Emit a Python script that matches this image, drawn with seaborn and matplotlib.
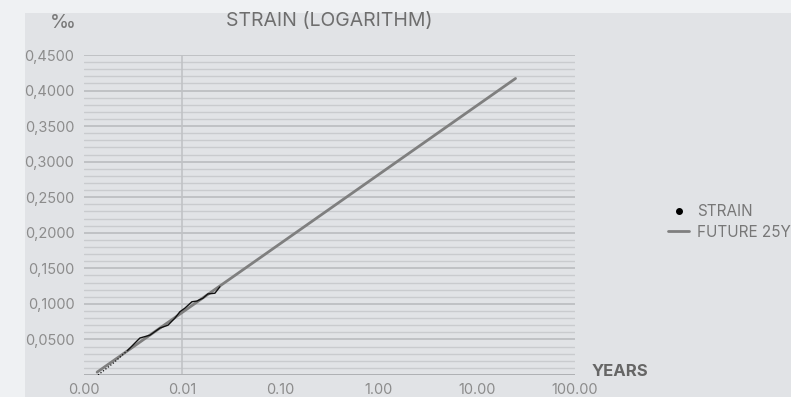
import matplotlib
matplotlib.use('Agg')
import matplotlib.pyplot as plt
import seaborn as sns
from matplotlib.lines import Line2D
from matplotlib.patches import Rectangle
from matplotlib.ticker import FuncFormatter, MultipleLocator, FixedLocator

# Data (years on log axis, strain in per mille)
strain_years_early = [0.00139, 0.0020, 0.0028]
strain_early = [0.0, 0.017, 0.035]

strain_years = [0.0028, 0.00371, 0.00469, 0.00593, 0.00716, 0.00843, 0.00948,
                0.01065, 0.01256, 0.01412, 0.01625, 0.01825, 0.02152, 0.02419]
strain = [0.035, 0.052, 0.056, 0.066, 0.070, 0.080, 0.089,
          0.094, 0.103, 0.104, 0.108, 0.114, 0.115, 0.124]

future_years = [0.00136, 24.8]
future = [0.004, 0.417]

x_ticks = [0.001, 0.01, 0.1, 1, 10, 100]
x_labels = ['0.00', '0.01', '0.10', '1.00', '10.00', '100.00']

sns.set_style('white')
plt.rcParams['font.family'] = ['Inter', 'DejaVu Sans']

W, H = 791, 397
fig = plt.figure(figsize=(W / 100, H / 100), dpi=100)
fig.patch.set_facecolor('#eff1f3')
fig.patches.append(Rectangle((25 / W, 0), 1, 1 - 13 / H, transform=fig.transFigure,
                             facecolor='#e1e3e6', edgecolor='none', zorder=-10))

ax = fig.add_axes([84 / W, 22 / H, 491 / W, 320 / H])
ax.set_facecolor('none')
ax.set_xscale('log')
ax.set_xlim(0.001, 100)
ax.set_ylim(0, 0.45)

# grid lines
ax.yaxis.set_major_locator(MultipleLocator(0.05))
ax.yaxis.set_minor_locator(MultipleLocator(0.01))
ax.grid(which='minor', axis='y', color='#c9cbce', lw=1)
ax.grid(which='major', axis='y', color='#b7b9bc', lw=1.1)
ax.axvline(0.01, color='#bfc1c4', lw=1.1, zorder=1)
ax.axhline(0, color='#aeb0b3', lw=1.3, zorder=1)

sns.lineplot(x=future_years, y=future, ax=ax, color='#7f7f7f', lw=2, zorder=3)
sns.lineplot(x=strain_years_early, y=strain_early, ax=ax, color='#111111',
             lw=0.9, ls=(0, (1, 1.5)), zorder=4)
sns.lineplot(x=strain_years, y=strain, ax=ax, color='#111111', lw=1, zorder=4)

for s in ax.spines.values():
    s.set_visible(False)

ax.xaxis.set_major_locator(FixedLocator(x_ticks))
ax.xaxis.set_minor_locator(FixedLocator([]))
ax.set_xticklabels(x_labels)
ax.yaxis.set_major_formatter(FuncFormatter(
    lambda v, p: '' if v < 0.001 else f'{v:.4f}'.replace('.', ',')))
ax.tick_params(axis='both', which='both', length=0, labelcolor='#8c8c8c', labelsize=10.5)
ax.tick_params(axis='x', pad=6)
ax.tick_params(axis='y', pad=7)

fig.text(63 / W, 1 - 23 / H, '‰', ha='center', va='center', fontsize=14, color='#777777')
fig.text(329 / W, 1 - 21 / H, 'STRAIN (LOGARITHM)', ha='center', va='center',
         fontsize=14, color='#6e6e6e')
fig.text(620 / W, 1 - 371 / H, 'YEARS', ha='center', va='center', fontsize=12,
         fontweight='bold', color='#666666')

handles = [Line2D([], [], color='black', marker='o', markersize=4, ls='none'),
           Line2D([], [], color='#7f7f7f', lw=2)]
leg = ax.legend(handles, ['STRAIN', 'FUTURE 25Y'], loc='center left',
                bbox_to_anchor=(668 / W, 1 - 222 / H), bbox_transform=fig.transFigure,
                frameon=False, fontsize=11, handlelength=1.4, handletextpad=0.5,
                labelspacing=0.35, borderaxespad=0, borderpad=0)
for t in leg.get_texts():
    t.set_color('#777777')

fig.savefig('out.png', dpi=100, facecolor=fig.get_facecolor())
